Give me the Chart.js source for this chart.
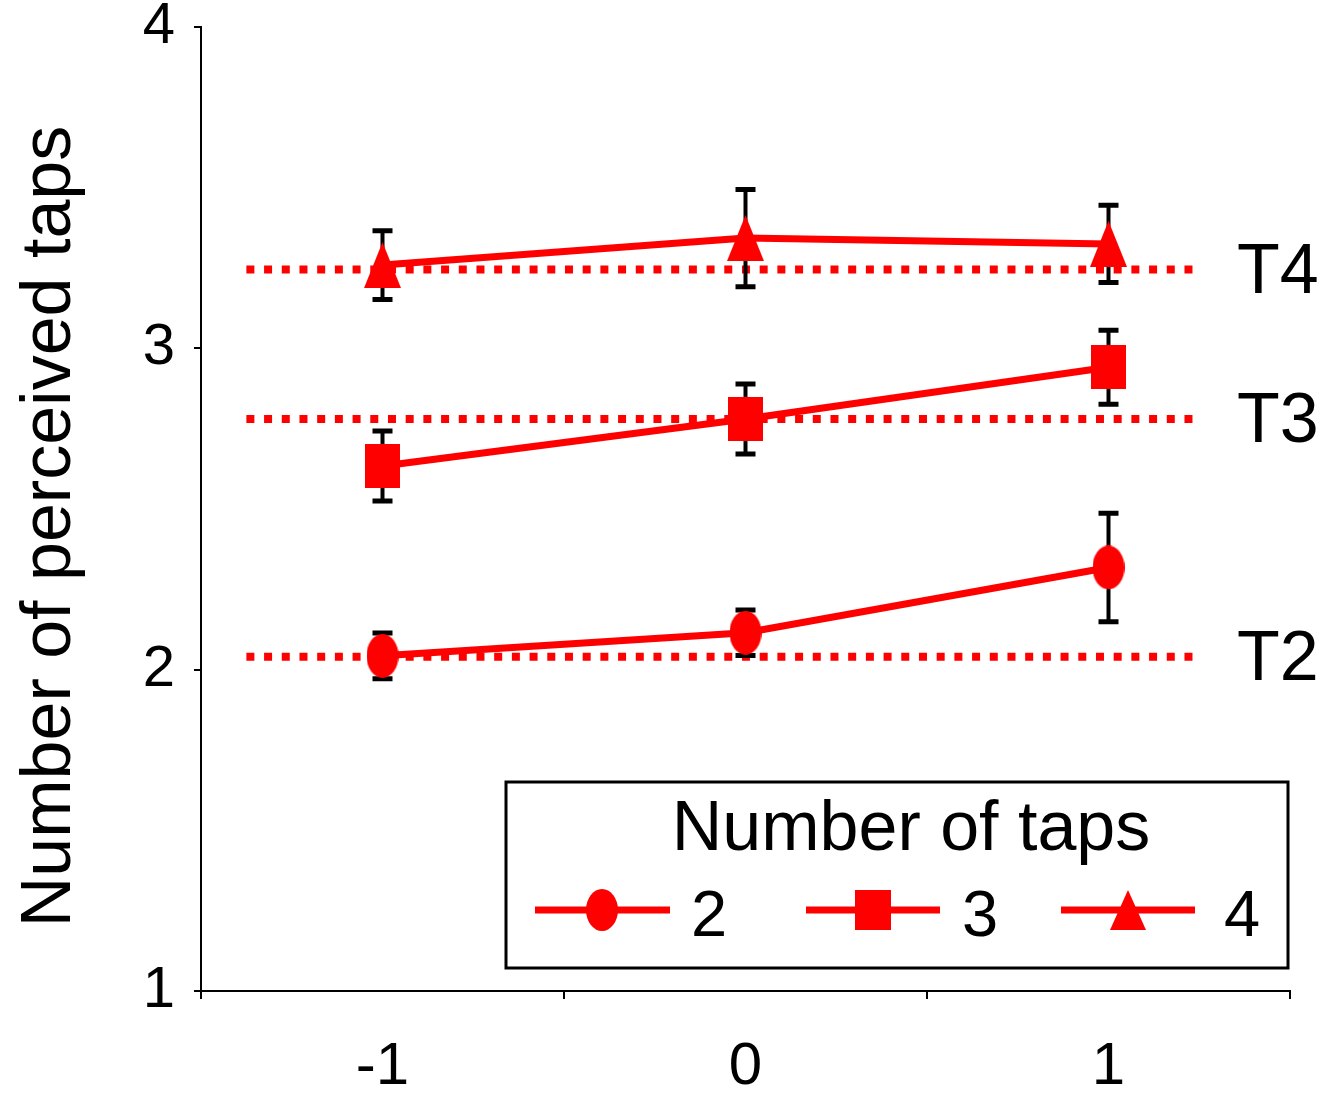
<!DOCTYPE html>
<html>
<head>
<meta charset="utf-8">
<script src="https://cdn.jsdelivr.net/npm/chart.js@4.4.1/dist/chart.umd.min.js"></script>
<style>
  html, body { margin: 0; padding: 0; background: #fff; }
  canvas { display: block; }
</style>
</head>
<body>
<canvas id="chart" width="1322" height="1093"></canvas>
<script>
// Data
const xValues = [-1, 0, 1];
const xTickLabels = ['-1', '0', '1'];
const seriesNames = ['2', '3', '4'];
const taps2 = [2.043, 2.115, 2.318];
const taps3 = [2.634, 2.78, 2.941];
const taps4 = [3.259, 3.343, 3.325];
const err2 = [0.071, 0.071, 0.169];
const err3 = [0.109, 0.109, 0.115];
const err4 = [0.107, 0.151, 0.12];
const refNames = ['T2', 'T3', 'T4'];
const refLevels = [2.04, 2.78, 3.245];
const refSpan = [-1.375, 1.245];

const RED = '#ff0000';
const FONT = "'Liberation Sans', Arial, Helvetica, sans-serif";

// marker images
function marker(shape, w, h){
  const c = document.createElement('canvas');
  c.width = w; c.height = h;
  const g = c.getContext('2d');
  g.fillStyle = RED;
  g.beginPath();
  if(shape === 'ellipse') g.ellipse(w/2, h/2, w/2, h/2, 0, 0, Math.PI*2);
  else if(shape === 'rect') g.rect(0, 0, w, h);
  else { g.moveTo(w/2, 0); g.lineTo(w, h); g.lineTo(0, h); g.closePath(); }
  g.fill();
  return c;
}
const shapes = [marker('ellipse', 32, 44), marker('rect', 35, 44), marker('tri', 37, 46)];
const legendShapes = [marker('ellipse', 32, 42), marker('rect', 36, 40), marker('tri', 36, 40)];

const series = [taps2, taps3, taps4];
const errs = [err2, err3, err4];

// Error bars, drawn under each series
const errorBars = {
  id: 'errorBars',
  beforeDatasetDraw(chart, args){
    const ds = chart.data.datasets[args.index];
    if(!ds.errors) return;
    const {ctx, scales:{x, y}} = chart;
    ctx.save();
    ctx.strokeStyle = '#000';
    ds.data.forEach((p, j)=>{
      const px = x.getPixelForValue(p.x);
      const top = y.getPixelForValue(p.y + ds.errors[j]);
      const bot = y.getPixelForValue(p.y - ds.errors[j]);
      ctx.lineWidth = 4;
      ctx.beginPath();
      ctx.moveTo(px, top); ctx.lineTo(px, bot);
      ctx.stroke();
      ctx.lineWidth = 5;
      ctx.beginPath();
      ctx.moveTo(px - 10, top); ctx.lineTo(px + 10, top);
      ctx.moveTo(px - 10, bot); ctx.lineTo(px + 10, bot);
      ctx.stroke();
    });
    ctx.restore();
  }
};

// T labels + boxed legend
const annotations = {
  id: 'annotations',
  afterDraw(chart){
    const {ctx, chartArea, scales:{y}} = chart;
    ctx.save();
    ctx.fillStyle = '#000';
    ctx.font = '70px ' + FONT;
    ctx.textBaseline = 'middle';
    ctx.textAlign = 'left';
    refLevels.forEach((lv, i)=>{
      ctx.fillText(refNames[i], chartArea.right - 53, y.getPixelForValue(lv) + 4);
    });

    // legend box
    ctx.strokeStyle = '#000';
    ctx.lineWidth = 3;
    ctx.strokeRect(506, 782, 782, 186);
    ctx.textAlign = 'center';
    ctx.textBaseline = 'alphabetic';
    ctx.fillText('Number of taps', 911, 850);

    const items = [[535, 670, 602, 691], [806, 940, 873, 962], [1061, 1195, 1128, 1224]];
    ctx.font = '65px ' + FONT;
    ctx.textAlign = 'left';
    items.forEach((it, i)=>{
      ctx.strokeStyle = RED;
      ctx.lineWidth = 7;
      ctx.beginPath();
      ctx.moveTo(it[0], 910); ctx.lineTo(it[1], 910);
      ctx.stroke();
      const m = legendShapes[i];
      ctx.drawImage(m, it[2] - m.width/2, 910 - m.height/2);
      ctx.fillText(seriesNames[i], it[3], 936);
    });
    ctx.restore();
  }
};

const datasets = series.map((vals, i)=>({
  label: seriesNames[i],
  data: xValues.map((x, j)=>({x: x, y: vals[j]})),
  borderColor: RED,
  backgroundColor: RED,
  borderWidth: 7,
  pointStyle: shapes[i],
  pointRadius: 20,
  errors: errs[i],
  order: 0
})).concat(refLevels.map((lv, i)=>({
  label: refNames[i],
  data: refSpan.map(x=>({x: x, y: lv})),
  borderColor: RED,
  borderWidth: 8,
  borderDash: [8, 9.7],
  borderCapStyle: 'butt',
  pointRadius: 0,
  order: 1
})));

new Chart(document.getElementById('chart'), {
  type: 'line',
  data: {datasets: datasets},
  options: {
    responsive: false,
    animation: false,
    layout: {padding: {top: 25, right: 32, left: 0, bottom: 0}},
    plugins: {legend: {display: false}, tooltip: {enabled: false}},
    scales: {
      x: {
        type: 'linear',
        min: -1.5, max: 1.5,
        afterFit: s => { s.height = 102; },
        border: {display: true, color: '#000', width: 2},
        grid: {
          drawOnChartArea: false,
          tickLength: 8,
          lineWidth: 2,
          tickColor: c => Number.isInteger(c.tick.value) ? 'rgba(0,0,0,0)' : '#000'
        },
        ticks: {
          stepSize: 0.5,
          autoSkip: false,
          maxRotation: 0,
          padding: 32,
          color: '#000',
          font: {family: FONT, size: 60},
          callback: v => {
            const k = xValues.indexOf(v);
            return Number.isInteger(v) && k >= 0 ? xTickLabels[k] : '';
          }
        }
      },
      y: {
        min: 1, max: 4,
        afterFit: s => { s.width = 201; },
        border: {display: true, color: '#000', width: 2},
        grid: {drawOnChartArea: false, tickLength: 7, lineWidth: 2, color: '#000'},
        ticks: {
          stepSize: 1,
          padding: 19,
          color: '#000',
          font: {family: FONT, size: 58, lineHeight: 0.2}
        },
        title: {
          display: true,
          // trailing en space nudges the rotated title down a little
          text: 'Number of perceived taps\u2002',
          color: '#000',
          font: {family: FONT, size: 70},
          padding: {top: 9, bottom: 0}
        }
      }
    }
  },
  plugins: [errorBars, annotations]
});
</script>
</body>
</html>
